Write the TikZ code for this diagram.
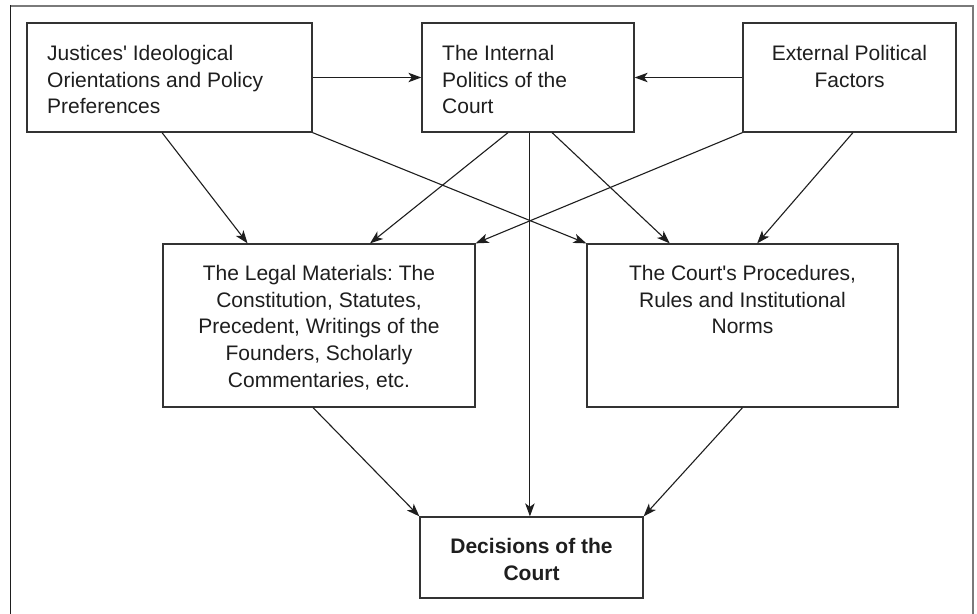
\documentclass[tikz,border=0pt]{standalone}
\usepackage{fontspec}
\setmainfont{Liberation Sans}
\usetikzlibrary{arrows.meta,calc}
\definecolor{ink}{HTML}{1E1E1E}
\definecolor{boxline}{HTML}{333333}
\definecolor{framegray}{HTML}{7A7A7A}
\frenchspacing
\begin{document}
\begin{tikzpicture}[x=1pt,y=-1pt,
  box/.style={draw=boxline,line width=1.3pt,rectangle,inner sep=0pt,fill=white},
  txt/.style={inner sep=0pt,text=ink,font=\fontsize{21}{26.7}\selectfont},
  arr/.style={draw=ink,line width=1.1pt,-{Stealth[length=13pt,width=9.5pt,inset=3.5pt]}}]
\useasboundingbox[fill=white] (0,0) rectangle (977,613);
% outer frame
\draw[framegray,line width=1.4pt] (10.5,6) -- (973,6) -- (973,620);
\draw[ink,line width=1.4pt] (10.5,5.3) -- (10.5,620);
% boxes
\node[box,minimum width=285pt,minimum height=109pt] (A) at (169.5,77.5) {};
\node[box,minimum width=212pt,minimum height=109pt] (B) at (528,77.5) {};
\node[box,minimum width=213pt,minimum height=109pt] (C) at (849.5,77.5) {};
\node[box,minimum width=312pt,minimum height=163pt] (D) at (319,325.5) {};
\node[box,minimum width=311pt,minimum height=163pt] (E) at (742.5,325.5) {};
\node[box,minimum width=223pt,minimum height=81pt] (F) at (531.5,557.5) {};
% texts
\node[txt,anchor=north west,align=left] (tA) at (47,45) {Justices\textquotesingle{} Ideological\\Orientations and Policy\\Preferences};
\node[txt,anchor=north west,align=left] (tB) at (442,45) {The Internal\\Politics of the\\Court};
\node[txt,anchor=north,align=center] (tC) at (849.5,45) {External Political\\Factors};
\node[txt,anchor=north,align=center] (tD) at (319,265) {The Legal Materials: The\\Constitution, Statutes,\\Precedent, Writings of the\\Founders, Scholarly\\Commentaries, etc.};
\node[txt,anchor=north,align=center] (tE) at (742.5,265) {The Court\textquotesingle s Procedures,\\Rules and Institutional\\Norms};
\node[txt,anchor=north,align=center,font=\fontsize{21}{26.7}\selectfont\bfseries] (tF) at (531.5,538) {Decisions of the\\Court};
% connectors
\draw[arr] (A.east) -- (A.east -| B.west);
\draw[arr] (C.west) -- (C.west -| B.east);
\draw[arr] ($(A.south west)!0.474!(A.south east)$) -- ($(D.north west)!0.272!(D.north east)$);
\draw[arr] (A.south east) -- (E.north west);
\draw[arr] ($(B.south west)!0.406!(B.south east)$) -- ($(D.north west)!0.663!(D.north east)$);
\draw[arr] ($(B.south west)!0.613!(B.south east)$) -- ($(E.north west)!0.267!(E.north east)$);
\draw[arr] (C.south west) -- (D.north east);
\draw[arr] ($(C.south west)!0.516!(C.south east)$) -- ($(E.north west)!0.547!(E.north east)$);
\draw[arr] ($(B.south west)!0.509!(B.south east)$) coordinate (bf) -- (bf |- F.north);
\draw[arr] ($(D.south west)!0.481!(D.south east)$) -- (F.north west);
\draw[arr] (E.south) -- (F.north east);
\end{tikzpicture}
\end{document}
